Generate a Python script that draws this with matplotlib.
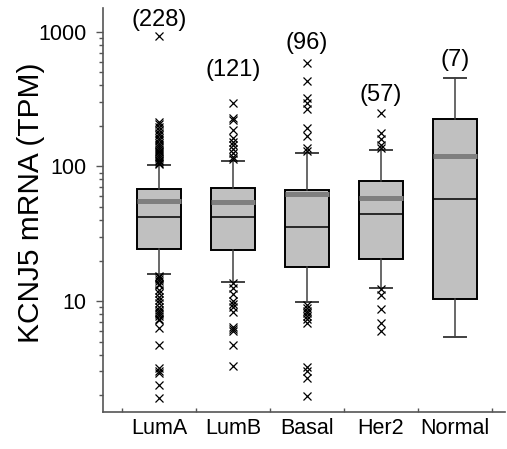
import numpy as np
import matplotlib
matplotlib.use("Agg")
import matplotlib.pyplot as plt
from matplotlib.ticker import FixedLocator, NullFormatter

plt.rcParams['font.family'] = ['Liberation Sans', 'DejaVu Sans']

# subtype summary statistics (TPM)
groups = ['LumA', 'LumB', 'Basal', 'Her2', 'Normal']
counts = [228, 121, 96, 57, 7]
q1 = [24.4, 23.9, 18.0, 20.4, 10.3]
median = [42.4, 42.4, 35.7, 44.3, 57.0]
q3 = [68.0, 69.5, 66.9, 78.0, 224.0]
mean = [55.4, 54.7, 62.8, 58.7, 120.0]
whisker_lo = [15.8, 13.8, 9.78, 12.4, 5.37]
whisker_hi = [102.6, 110.0, 125.0, 133.0, 457.0]

# outlying samples
fliers = [
    [930, 214, 205, 196, 185, 176, 170, 163, 156, 150, 145, 140, 135, 131,
     127, 123, 119, 115, 112, 109, 106, 104,
     15.4, 15.0, 14.5, 14.0, 13.5, 13.2, 12.0, 11.4, 10.8, 10.2, 9.7, 9.0,
     8.6, 8.3, 8.0, 7.7, 7.4, 7.2, 6.3, 4.7, 3.2, 3.0, 2.9, 2.4, 1.9],
    [298, 230, 220, 186, 163, 153, 144, 134, 126, 118, 113,
     13.6, 12.5, 11.2, 10.0, 9.5, 9.0, 8.3, 6.4, 6.2, 6.0, 4.7, 3.3],
    [591, 432, 322, 298, 268, 193, 167, 137, 131,
     9.3, 8.9, 8.5, 8.1, 7.7, 7.3, 6.9, 3.25, 3.0, 2.7, 1.97],
    [251, 177, 160, 144, 137, 12.2, 11.1, 8.67, 6.82, 6.0],
    [],
]

# distance of the count label centre above the top mark, in points
label_offset = [11.5, 23.5, 14.4, 12.7, 12.7]

stats = []
for i, g in enumerate(groups):
    stats.append(dict(label=g, q1=q1[i], med=median[i], q3=q3[i],
                      mean=mean[i], whislo=whisker_lo[i],
                      whishi=whisker_hi[i], fliers=fliers[i]))

fig = plt.figure(figsize=(5.07, 4.49), dpi=100)
ax = fig.add_axes([0.203, 0.0824, 0.793, 0.8996])

pos = np.arange(1, len(groups) + 1)
ax.bxp(stats, positions=pos, widths=0.6, patch_artist=True,
       showmeans=True, meanline=True,
       boxprops=dict(facecolor='#c0c0c0', edgecolor='black', linewidth=1.4),
       medianprops=dict(color='black', linewidth=1.1),
       meanprops=dict(color='#7f7f7f', linewidth=3.6, linestyle='-'),
       whiskerprops=dict(color='#404040', linewidth=1.1),
       capprops=dict(color='#404040', linewidth=1.4),
       capwidths=0.3,
       flierprops=dict(marker='x', markersize=6, markeredgecolor='black',
                       markeredgewidth=0.9, linestyle='none'))

for i in range(len(groups)):
    top = max([whisker_hi[i]] + fliers[i])
    ax.annotate('(%d)' % counts[i], xy=(pos[i], top),
                xytext=(0, label_offset[i]), textcoords='offset points',
                ha='center', va='center', fontsize=17)

ax.set_yscale('log')
ax.set_ylim(1.5, 1500)
ax.set_xlim(0.243, 5.68)

ax.yaxis.set_major_locator(FixedLocator([10, 100, 1000]))
ax.set_yticklabels(['10', '100', '1000'])
ax.yaxis.set_minor_formatter(NullFormatter())
ax.tick_params(axis='y', which='major', length=5, width=1, color='#555555',
               labelsize=15.5, pad=7)
ax.tick_params(axis='y', which='minor', length=3, width=1, color='#555555')

ax.set_xticks(pos)
ax.set_xticklabels(groups)
ax.set_xticks(np.arange(0.5, 6.0, 1.0), minor=True)
ax.tick_params(axis='x', which='major', length=0, labelsize=15.5, pad=4)
ax.tick_params(axis='x', which='minor', direction='in', length=3, width=1,
               color='#555555')

ax.set_ylabel('KCNJ5 mRNA (TPM)', fontsize=21.5)
ax.yaxis.set_label_coords(-0.145, 0.517)

for s in ['top', 'right']:
    ax.spines[s].set_visible(False)
for s in ['left', 'bottom']:
    ax.spines[s].set_color('#555555')
    ax.spines[s].set_linewidth(1.2)

fig.savefig('out.png', dpi=100)
